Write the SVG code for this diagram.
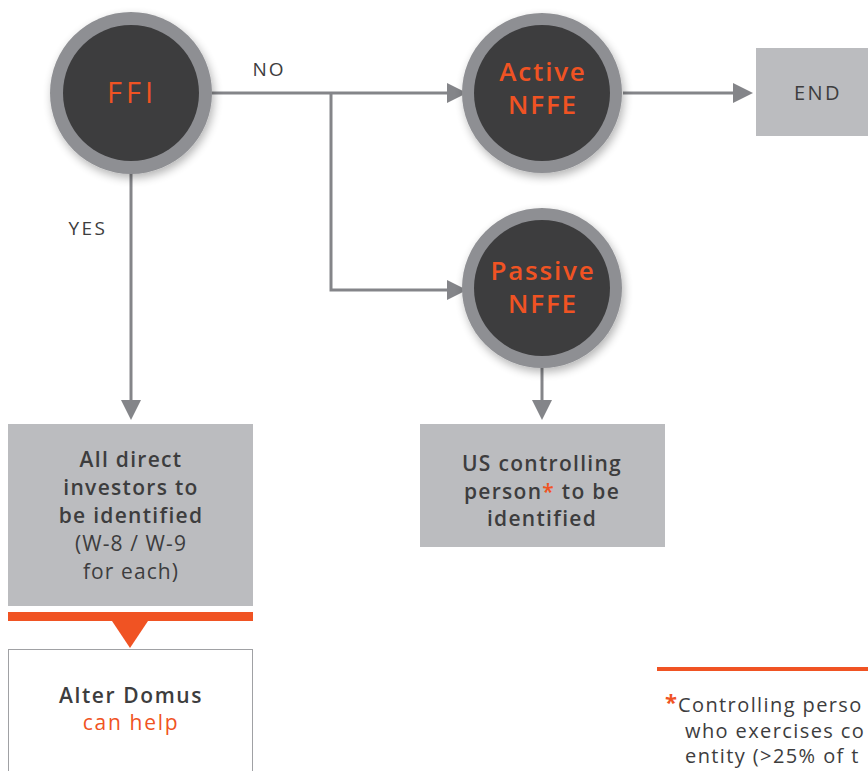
<svg xmlns="http://www.w3.org/2000/svg" width="868" height="771" viewBox="0 0 868 771">
<style>
.t{font-family:"Open Sans","Liberation Sans",sans-serif;fill:#3d3d3e;letter-spacing:1.1px}
.c{font-family:"Open Sans","Liberation Sans",sans-serif;fill:#f05323;font-weight:600;text-anchor:middle;letter-spacing:1.8px}
.b{font-weight:600;letter-spacing:1.3px}
.ring{fill:#8e8f93}
.core{fill:#3d3d3e}
.box{fill:#bbbcbf}
.ln{stroke:#848589;stroke-width:3;fill:none}
.ah{fill:#848589}
</style>
<defs>
<filter id="sh" x="-30%" y="-30%" width="160%" height="160%">
<feGaussianBlur in="SourceAlpha" stdDeviation="5"/>
<feOffset dx="2" dy="4"/>
<feComponentTransfer><feFuncA type="linear" slope="0.3"/></feComponentTransfer>
<feMerge><feMergeNode/><feMergeNode in="SourceGraphic"/></feMerge>
</filter>
</defs>
<rect width="868" height="771" fill="#ffffff"/>
<g id="connectors">
<path class="ln" d="M212 93H452"/>
<polygon class="ah" points="447,83 467,93 447,103"/>
<path class="ln" d="M331 93V290H452"/>
<polygon class="ah" points="447,280 467,290 447,300"/>
<path class="ln" d="M623 93H738"/>
<polygon class="ah" points="733,83 753,93 733,103"/>
<path class="ln" d="M131 173V405"/>
<polygon class="ah" points="121,400 131,420 141,400"/>
<path class="ln" d="M542 368V405"/>
<polygon class="ah" points="532,400 542,420 552,400"/>
<text class="t" x="269" y="76" font-size="19" text-anchor="middle" style="letter-spacing:2px">NO</text>
<text class="t" x="88" y="235" font-size="19" text-anchor="middle" style="letter-spacing:2.5px">YES</text>
</g>
<g id="ffi">
<circle class="ring" cx="131" cy="93" r="81" filter="url(#sh)"/>
<circle class="core" cx="131" cy="93" r="68"/>
<text class="c" x="132" y="103" font-size="29" style="font-weight:400;letter-spacing:4px">FFI</text>
</g>
<g id="active">
<circle class="ring" cx="542" cy="93" r="80" filter="url(#sh)"/>
<circle class="core" cx="542" cy="93" r="68"/>
<text class="c" x="543" y="81" font-size="26">Active</text>
<text class="c" x="543" y="114" font-size="26">NFFE</text>
</g>
<g id="passive">
<circle class="ring" cx="542" cy="288" r="80" filter="url(#sh)"/>
<circle class="core" cx="542" cy="288" r="68"/>
<text class="c" x="543" y="280" font-size="26">Passive</text>
<text class="c" x="543" y="313" font-size="26">NFFE</text>
</g>
<g id="end">
<rect class="box" x="756" y="48" width="120" height="88"/>
<text class="t" x="818" y="100" font-size="20" text-anchor="middle" style="letter-spacing:2.5px">END</text>
</g>
<g id="direct">
<rect class="box" x="8" y="424" width="245" height="182"/>
<g font-size="21" text-anchor="middle">
<text class="t b" x="131" y="467">All direct</text>
<text class="t b" x="131" y="495">investors to</text>
<text class="t b" x="131" y="523">be identified</text>
<text class="t" x="131" y="551">(W-8 / W-9</text>
<text class="t" x="131" y="579">for each)</text>
</g>
</g>
<g id="usperson">
<rect class="box" x="420" y="424" width="245" height="123"/>
<g font-size="21" text-anchor="middle">
<text class="t b" x="542" y="471">US controlling</text>
<text class="t b" x="542" y="499">person<tspan fill="#f05323" style="fill:#f05323">*</tspan> to be</text>
<text class="t b" x="542" y="526">identified</text>
</g>
</g>
<g id="alter">
<rect x="8" y="612" width="245" height="9" fill="#f05323"/>
<polygon points="112,621 148,621 130,648" fill="#f05323"/>
<rect x="8.5" y="649.5" width="244" height="130" fill="#ffffff" stroke="#a0a1a4" stroke-width="1"/>
<text class="t" x="131" y="703" font-size="21" text-anchor="middle" style="font-weight:600;letter-spacing:1.6px">Alter Domus</text>
<text class="t" x="131" y="730" font-size="21" text-anchor="middle" style="fill:#f05323;letter-spacing:1.7px">can help</text>
</g>
<g id="footnote">
<rect x="657" y="667" width="215" height="4" fill="#f05323"/>
<text x="665" y="710" font-size="22" font-family="Open Sans, sans-serif" fill="#f05323" font-weight="700">*</text>
<text class="t" x="678" y="712" font-size="20" style="letter-spacing:1.4px">Controlling perso</text>
<text class="t" x="685" y="738" font-size="20" style="letter-spacing:1.4px">who exercises co</text>
<text class="t" x="685" y="763" font-size="20" style="letter-spacing:1.4px">entity (&gt;25% of t</text>
</g>
</svg>
